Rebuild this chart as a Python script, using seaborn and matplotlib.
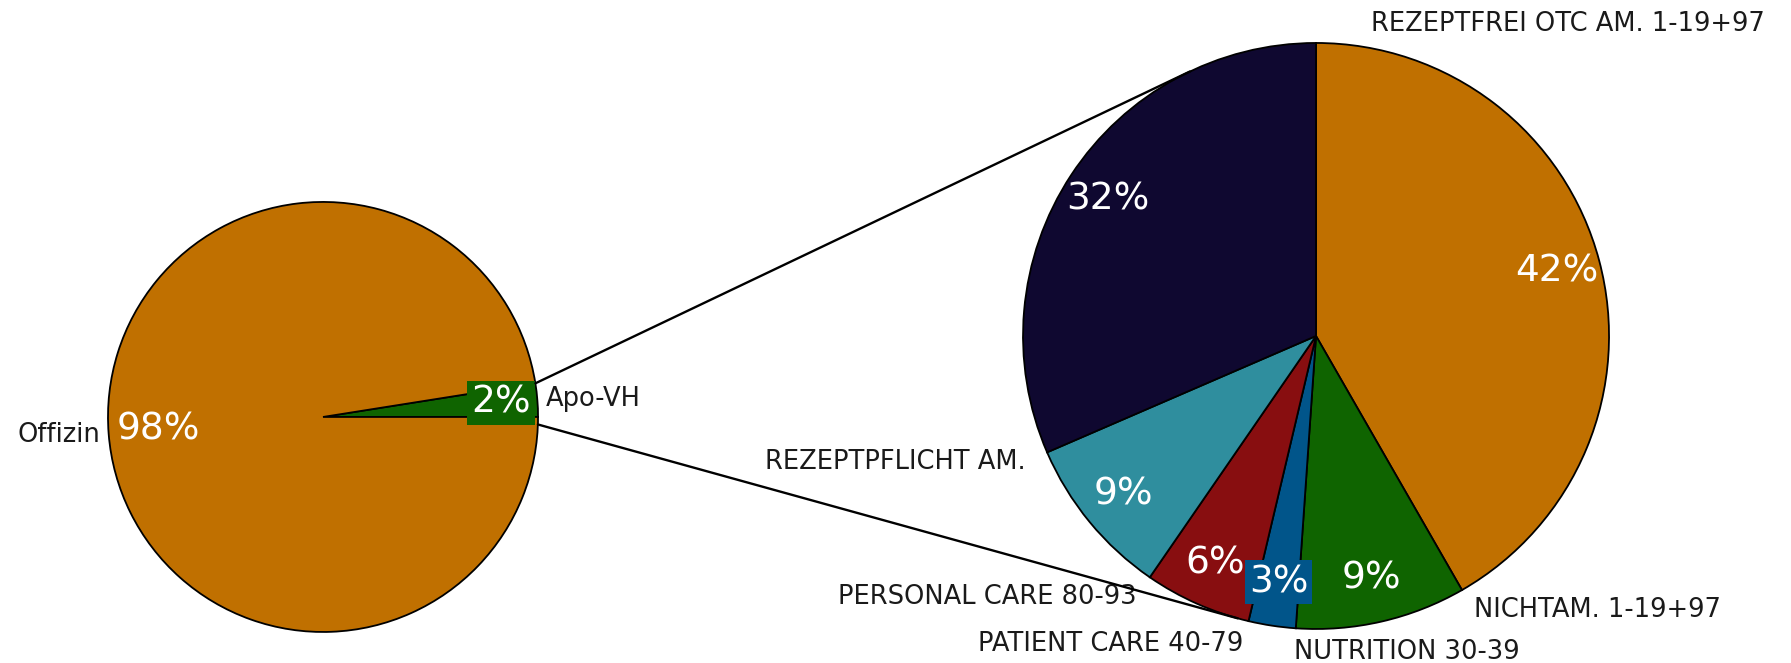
import numpy as np
import matplotlib.pyplot as plt
from matplotlib.patches import ConnectionPatch
import seaborn as sns

# datos
haupt_labels = ["Apo-VH", "Offizin"]
haupt_werte = [2.5, 97.5]
haupt_farben = ["#0F6400", "#C07000"]

detail_labels = ["REZEPTFREI OTC AM. 1-19+97", "NICHTAM. 1-19+97", "NUTRITION 30-39",
                 "PATIENT CARE 40-79", "PERSONAL CARE 80-93", "REZEPTPFLICHT AM."]
detail_werte = [41.7, 9.4, 2.6, 5.9, 8.9, 31.5]
detail_farben = ["#C07000", "#0F6400", "#01558A", "#880E10", "#2F8E9E", "#0F0830"]

sns.set_theme(style="white")
plt.rcParams['font.family'] = ['DejaVu Sans']

fig = plt.figure(figsize=(17.91, 6.63), dpi=100)
ax1 = fig.add_axes([0.0603, 0.0468, 0.2401, 0.6486])
ax2 = fig.add_axes([0.5712, 0.0513, 0.3272, 0.8839])

txt_col = "#1a1a1a"
kante = dict(edgecolor="black", linewidth=1.3)
lab_size = 18.5
pct_size = 27

# linker Kreis
w1, t1, p1 = ax1.pie(haupt_werte, labels=haupt_labels, colors=haupt_farben,
                     startangle=0, counterclock=True, autopct="%.0f%%",
                     pctdistance=0.83, labeldistance=1.04, radius=1,
                     wedgeprops=kante,
                     textprops=dict(fontsize=lab_size, color=txt_col))
for t in p1:
    t.set_color("white")
    t.set_fontsize(pct_size)
p1[0].set_bbox(dict(facecolor=haupt_farben[0], edgecolor="none", pad=3))
# 98% etwas weiter nach innen
p1[1].set_position(np.array(p1[1].get_position()) * 0.77 / 0.83)

# rechter Kreis
w2, p2_labels, p2 = ax2.pie(detail_werte, colors=detail_farben, startangle=90,
                            counterclock=False, autopct="%.0f%%", pctdistance=0.85,
                            radius=1, wedgeprops=kante,
                            textprops=dict(fontsize=pct_size, color="white"))
p2[2].set_bbox(dict(facecolor=detail_farben[2], edgecolor="none", pad=3))

# Beschriftung am Anfang jedes Segments
nudge = [-10, 0, 0, 0, 0, 0]
for w, lab, dn in zip(w2, detail_labels, nudge):
    ang = np.deg2rad(w.theta2 + dn)
    x, y = 1.08 * np.cos(ang), 1.08 * np.sin(ang)
    ha = "left" if np.cos(ang) > -0.1 else "right"
    ax2.text(x, y, lab, ha=ha, va="center", fontsize=lab_size, color=txt_col)

for ax in (ax1, ax2):
    ax.set_xlim(-1, 1)
    ax.set_ylim(-1, 1)
    ax.set_aspect("equal")
    ax.axis("off")

# Verbindungslinien (Tangenten an rechten Kreis)
fig.canvas.draw()
kw = w1[0]
for theta, sign in ((kw.theta2, -1), (kw.theta1 - 2, 1)):
    pa = (np.cos(np.deg2rad(theta)), np.sin(np.deg2rad(theta)))
    p = ax2.transData.inverted().transform(ax1.transData.transform(pa))
    d = np.hypot(*p)
    phi = np.arctan2(p[1], p[0])
    alpha = np.arccos(1 / d)
    tb = phi + sign * alpha
    pb = (np.cos(tb), np.sin(tb))
    con = ConnectionPatch(xyA=pa, coordsA=ax1.transData, xyB=pb, coordsB=ax2.transData,
                          color="black", linewidth=1.7)
    fig.add_artist(con)

plt.savefig("out.png", dpi=100)
